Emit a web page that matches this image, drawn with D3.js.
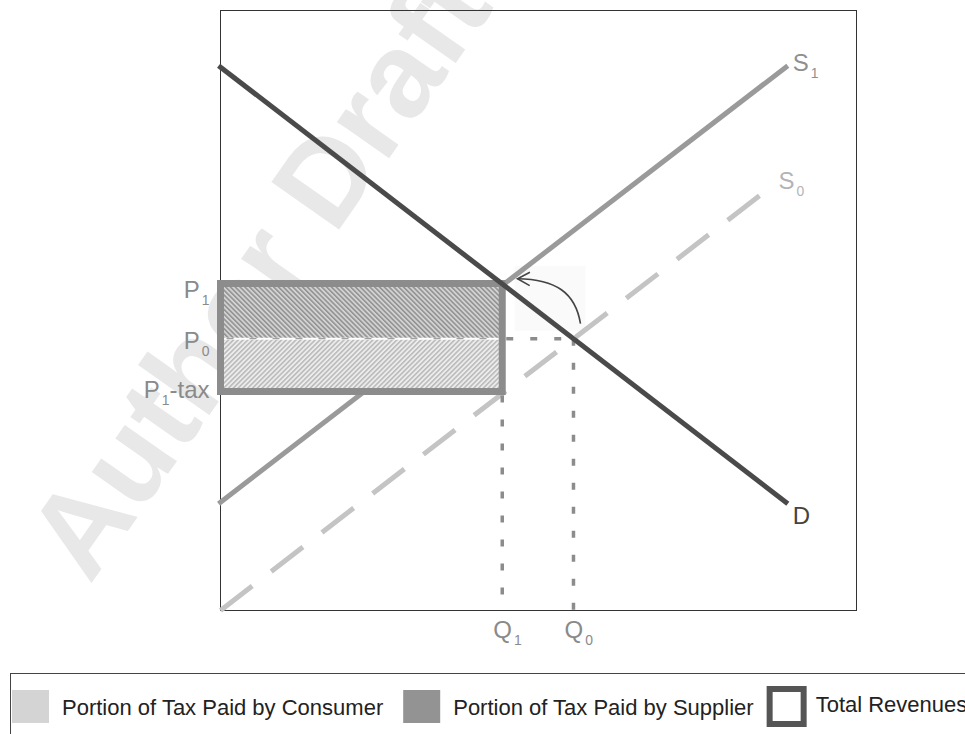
<!DOCTYPE html>
<html>
<head>
<meta charset="utf-8">
<script src="https://cdn.jsdelivr.net/npm/d3@7"></script>
<style>
  body { margin: 0; background: #fff; }
  svg { display: block; font-family: "Liberation Sans", Arial, sans-serif; }
</style>
</head>
<body>
<div id="chart"></div>
<script>
const width = 965;
const height = 734;

// curves in (quantity, price) units, both axes 0-100
const demand  = [{q: -0.3, p: 90.8}, {q: 89.2, p: 17.8}];
const supply1 = [{q: -0.3, p: 17.8}, {q: 89.2, p: 90.8}];
const supply0 = [{q: 0, p: 0}, {q: 86.8, p: 70.8}];

// equilibrium quantities and prices
const Q1 = 44.3, Q0 = 55.5;
const P1 = 54.5, P0 = 45.3, P1tax = 36.5;

const priceLabels = [
  {main: 'P', sub: '1', tail: '', value: P1},
  {main: 'P', sub: '0', tail: '', value: P0},
  {main: 'P', sub: '1', tail: '-tax', value: P1tax}
];
const qtyLabels = [
  {main: 'Q', sub: '1', value: Q1},
  {main: 'Q', sub: '0', value: Q0}
];
// curved arrow from the old equilibrium towards the new one (start, c1, c2, end)
const arrowPts = [{q: 56.6, p: 47.8}, {q: 55.8, p: 53.0}, {q: 52.7, p: 55.2}, {q: 46.7, p: 55.3}];
const legendLabels = ['Portion of Tax Paid by Consumer', 'Portion of Tax Paid by Supplier', 'Total Revenues'];

const x = d3.scaleLinear().domain([0, 100]).range([220.5, 856.5]);
const y = d3.scaleLinear().domain([0, 100]).range([610.5, 10.5]);

const svg = d3.select('#chart').append('svg')
  .attr('width', width)
  .attr('height', height);

// hatch patterns for the two tax portions
const defs = svg.append('defs');
function hatch(id, angle, bg, fg) {
  const p = defs.append('pattern')
    .attr('id', id)
    .attr('patternUnits', 'userSpaceOnUse')
    .attr('width', 3.4).attr('height', 10)
    .attr('patternTransform', `rotate(${angle})`);
  p.append('rect').attr('width', 3.4).attr('height', 10).attr('fill', bg);
  p.append('line').attr('x1', 0.8).attr('x2', 0.8).attr('y1', 0).attr('y2', 10)
    .attr('stroke', fg).attr('stroke-width', 1.4);
}
hatch('hatchUpper', -45, '#d2d2d2', '#8a8a8a');
hatch('hatchLower', 45, '#ececec', '#b4b4b4');

// watermark
svg.append('text')
  .attr('transform', 'translate(258,272) rotate(-55)')
  .attr('text-anchor', 'middle')
  .attr('dominant-baseline', 'central')
  .attr('font-size', 120)
  .attr('font-weight', 'bold')
  .attr('fill', '#e8e8e8')
  .text('Author Draft');

// frame
svg.append('rect')
  .attr('x', x(0)).attr('y', y(100))
  .attr('width', x(100) - x(0)).attr('height', y(0) - y(100))
  .attr('fill', 'none')
  .attr('stroke', '#333')
  .attr('stroke-width', 1);

const line = d3.line().x(d => x(d.q)).y(d => y(d.p));

// faint backdrop behind the arrow
const ax = d3.extent(arrowPts, d => x(d.q)), ay = d3.extent(arrowPts, d => y(d.p));
svg.append('rect')
  .attr('x', ax[0] - 3).attr('y', ay[0] - 13)
  .attr('width', ax[1] - ax[0] + 8).attr('height', ay[1] - ay[0] + 20)
  .attr('fill', '#fafafa');

svg.append('path').datum(supply0)
  .attr('d', line)
  .attr('fill', 'none')
  .attr('stroke', '#c4c4c4')
  .attr('stroke-width', 5)
  .attr('stroke-dasharray', '40,24');

svg.append('path').datum(supply1)
  .attr('d', line)
  .attr('fill', 'none')
  .attr('stroke', '#9a9a9a')
  .attr('stroke-width', 5);

// tax revenue box
svg.append('rect')
  .attr('x', x(0)).attr('y', y(P1))
  .attr('width', x(Q1) - x(0)).attr('height', y(P0) - y(P1))
  .attr('fill', 'url(#hatchUpper)');
svg.append('rect')
  .attr('x', x(0)).attr('y', y(P0))
  .attr('width', x(Q1) - x(0)).attr('height', y(P1tax) - y(P0))
  .attr('fill', 'url(#hatchLower)');
svg.append('line')
  .attr('x1', x(0)).attr('x2', x(Q1)).attr('y1', y(P0)).attr('y2', y(P0))
  .attr('stroke', '#fff').attr('stroke-width', 2);
svg.append('line')
  .attr('x1', x(0) + 6).attr('x2', x(Q1)).attr('y1', y(P0)).attr('y2', y(P0))
  .attr('stroke', '#8a8a8a').attr('stroke-width', 1)
  .attr('stroke-dasharray', '7,16');
svg.append('rect')
  .attr('x', x(0)).attr('y', y(P1))
  .attr('width', x(Q1) - x(0)).attr('height', y(P1tax) - y(P1))
  .attr('fill', 'none')
  .attr('stroke', '#8c8c8c')
  .attr('stroke-width', 7);

// dotted guides
const guide = {stroke: '#8c8c8c', width: 3.5, dash: '7,17'};
[
  [[x(Q1) + 4, y(P0)], [x(Q0), y(P0)]],
  [[x(Q1), y(P1tax) + 4], [x(Q1), y(0)]],
  [[x(Q0), y(P0)], [x(Q0), y(0)]]
].forEach(seg => {
  svg.append('line')
    .attr('x1', seg[0][0]).attr('y1', seg[0][1])
    .attr('x2', seg[1][0]).attr('y2', seg[1][1])
    .attr('stroke', guide.stroke)
    .attr('stroke-width', guide.width)
    .attr('stroke-dasharray', guide.dash);
});

svg.append('path').datum(demand)
  .attr('d', line)
  .attr('fill', 'none')
  .attr('stroke', '#4a4a4a')
  .attr('stroke-width', 5);

// arrow: curve plus open head drawn along the end tangent
const ap = arrowPts.map(d => [x(d.q), y(d.p)]);
svg.append('path')
  .attr('d', `M${ap[0]}C${ap[1]} ${ap[2]} ${ap[3]}`)
  .attr('fill', 'none')
  .attr('stroke', '#444')
  .attr('stroke-width', 1.6);
const ang = Math.atan2(ap[3][1] - ap[2][1], ap[3][0] - ap[2][0]);
const wing = 14, spread = 0.5;
const w1 = [ap[3][0] - wing * Math.cos(ang - spread), ap[3][1] - wing * Math.sin(ang - spread)];
const w2 = [ap[3][0] - wing * Math.cos(ang + spread), ap[3][1] - wing * Math.sin(ang + spread)];
svg.append('path')
  .attr('d', `M${w1}L${ap[3]}L${w2}`)
  .attr('fill', 'none')
  .attr('stroke', '#444')
  .attr('stroke-width', 1.6);

// label helper: main letter + subscript (+ optional tail)
function subLabel(g, d, color, size) {
  const t = g.append('text')
    .attr('fill', color)
    .attr('font-size', size);
  t.append('tspan').text(d.main);
  t.append('tspan').attr('dx', 2).attr('dy', 7).attr('font-size', size * 0.58).text(d.sub);
  if (d.tail) t.append('tspan').attr('dy', -7).text(d.tail);
  return t;
}

const priceDy = [14, 10, 6];
priceLabels.forEach((d, i) => {
  subLabel(svg, d, '#8a8a8a', 24)
    .attr('x', x(0) - 11)
    .attr('y', y(d.value) + priceDy[i])
    .attr('text-anchor', 'end');
});

qtyLabels.forEach(d => {
  subLabel(svg, d, '#8a8a8a', 24)
    .attr('x', x(d.value) - 9)
    .attr('y', 638);
});

// curve end labels
const endLabels = [
  {d: {main: 'S', sub: '1'}, pt: supply1[1], color: '#8f8f8f', dx: 5, dy: 5},
  {d: {main: 'S', sub: '0'}, pt: supply0[1], color: '#b4b4b4', dx: 6, dy: 3},
  {d: {main: 'D', sub: ''}, pt: demand[1], color: '#444', dx: 5, dy: 20}
];
endLabels.forEach(l => {
  subLabel(svg, l.d, l.color, 24)
    .attr('x', x(l.pt.q) + l.dx)
    .attr('y', y(l.pt.p) + l.dy);
});

// legend (runs past the right edge, as in the original)
const legend = svg.append('g').attr('font-size', 22).attr('fill', '#222');
legend.append('rect')
  .attr('x', 10.5).attr('y', 673.5)
  .attr('width', 1000).attr('height', 100)
  .attr('fill', 'none')
  .attr('stroke', '#444')
  .attr('stroke-width', 1);

const swatches = [
  {fill: '#d4d4d4', stroke: 'none', sw: 0},
  {fill: '#939393', stroke: 'none', sw: 0},
  {fill: '#fff', stroke: '#555', sw: 6}
];
const gaps = [20, 13, 0];
let lx = 12;
legendLabels.forEach((label, i) => {
  const s = swatches[i];
  if (s.sw) {
    legend.append('rect')
      .attr('x', lx + s.sw / 2).attr('y', 686 + s.sw / 2)
      .attr('width', 40 - s.sw).attr('height', 41 - s.sw)
      .attr('fill', s.fill).attr('stroke', s.stroke).attr('stroke-width', s.sw);
    lx += 49;
  } else {
    legend.append('rect')
      .attr('x', lx).attr('y', 690)
      .attr('width', 37).attr('height', 33)
      .attr('fill', s.fill);
    lx += 50;
  }
  const t = legend.append('text')
    .attr('x', lx)
    .attr('y', i === 2 ? 712 : 715)
    .text(label);
  lx += t.node().getComputedTextLength() + gaps[i];
});
</script>
</body>
</html>
